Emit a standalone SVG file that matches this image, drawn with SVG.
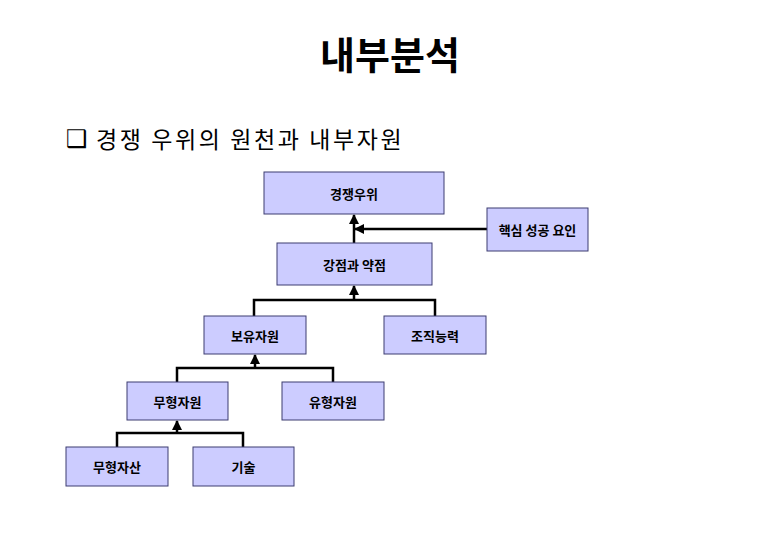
<svg xmlns="http://www.w3.org/2000/svg" width="780" height="540" viewBox="0 0 780 540">
<style>
.box{fill:#ccccff;stroke:#3c3c70;stroke-width:1}
.lbl{font-family:"Noto Sans CJK KR","Liberation Sans",sans-serif;font-size:13px;font-weight:bold;fill:#000;text-anchor:middle;dominant-baseline:central}
.ln{fill:none;stroke:#000;stroke-width:2.5}
.title{font-family:"Noto Sans CJK KR","Liberation Sans",sans-serif;font-size:38px;font-weight:bold;fill:#000;text-anchor:middle}
.sub{font-family:"Noto Sans CJK KR","Liberation Sans",sans-serif;font-size:23px;letter-spacing:2.6px;fill:#000}
</style>
<defs>
<marker id="ah" viewBox="0 0 10 10" refX="9" refY="5" markerWidth="4" markerHeight="4" orient="auto" markerUnits="strokeWidth">
<path d="M0,0 L10,5 L0,10 z" fill="#000"/>
</marker>
</defs>
<rect width="780" height="540" fill="#fff"/>
<text class="title" x="390" y="69">내부분석</text>
<text x="66" y="147" style="font-family:'DejaVu Sans',sans-serif;font-size:24px;fill:#000">❑</text>
<text class="sub" x="96" y="148">경쟁 우위의 원천과 내부자원</text>

<g id="connectors">
<path class="ln" d="M354,243 L354,215" marker-end="url(#ah)"/>
<path class="ln" d="M487,229 L355,229" marker-end="url(#ah)"/>
<path class="ln" d="M254,316 L254,300 L435,300 L435,316"/>
<path class="ln" d="M354,300 L354,286" marker-end="url(#ah)"/>
<path class="ln" d="M177,382 L177,368 L333,368 L333,382"/>
<path class="ln" d="M255,368 L255,355" marker-end="url(#ah)"/>
<path class="ln" d="M117,447 L117,433 L243,433 L243,447"/>
<path class="ln" d="M177,433 L177,421" marker-end="url(#ah)"/>
</g>

<g id="n-competitive-advantage">
<rect class="box" x="264" y="172" width="180" height="42"/>
<text class="lbl" x="354" y="193">경쟁우위</text>
</g>
<g id="n-ksf">
<rect class="box" x="487" y="208" width="101" height="43"/>
<text class="lbl" x="537.5" y="229.5">핵심 성공 요인</text>
</g>
<g id="n-swot">
<rect class="box" x="277" y="243" width="155" height="42"/>
<text class="lbl" x="354.5" y="264">강점과 약점</text>
</g>
<g id="n-owned">
<rect class="box" x="204" y="316" width="102" height="38"/>
<text class="lbl" x="255" y="335">보유자원</text>
</g>
<g id="n-org">
<rect class="box" x="384" y="316" width="102" height="38"/>
<text class="lbl" x="435" y="335">조직능력</text>
</g>
<g id="n-intangible">
<rect class="box" x="127" y="382" width="101" height="38"/>
<text class="lbl" x="177.5" y="401">무형자원</text>
</g>
<g id="n-tangible">
<rect class="box" x="282" y="382" width="102" height="38"/>
<text class="lbl" x="333" y="401">유형자원</text>
</g>
<g id="n-intangible-asset">
<rect class="box" x="66" y="447" width="102" height="39"/>
<text class="lbl" x="117" y="466.5">무형자산</text>
</g>
<g id="n-tech">
<rect class="box" x="193" y="447" width="101" height="39"/>
<text class="lbl" x="243.5" y="466.5">기술</text>
</g>
</svg>
